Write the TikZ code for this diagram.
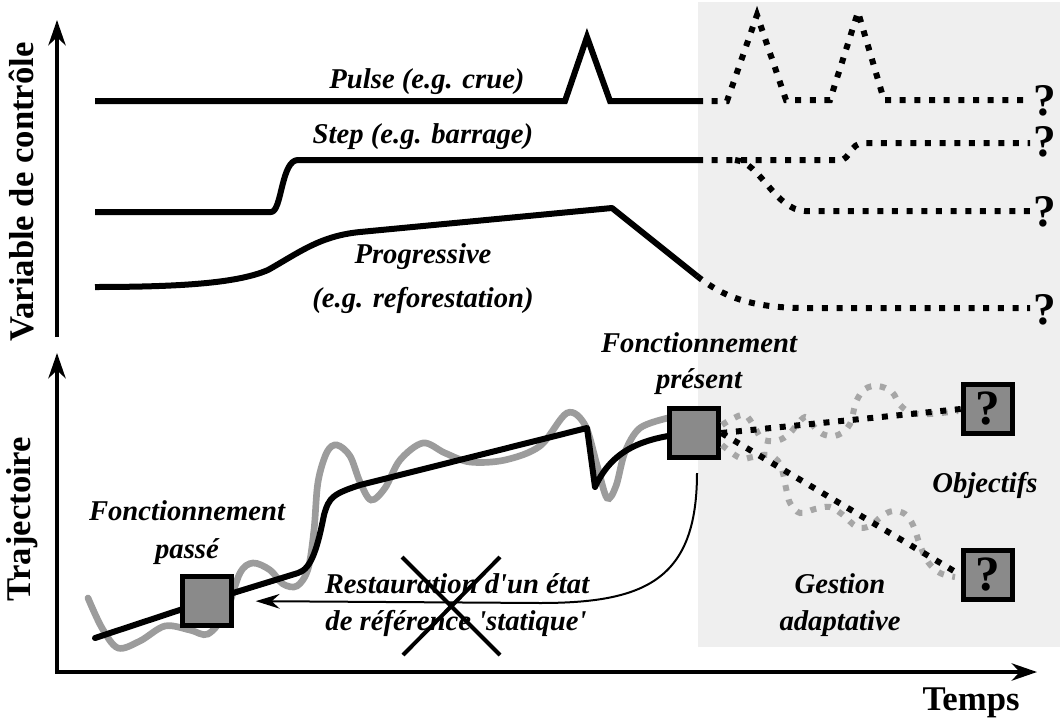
\documentclass[tikz,border=0pt]{standalone}
\usepackage{fontspec}
\setmainfont{Liberation Serif}
\usetikzlibrary{arrows.meta,calc}
\definecolor{zonegray}{HTML}{EFEFEF}
\definecolor{boxgray}{HTML}{8A8A8A}
\definecolor{wigglegray}{HTML}{9C9C9C}
\definecolor{dotgray}{HTML}{A6A6A6}
\pgfdeclarelayer{bg}
\pgfdeclarelayer{mid}
\pgfsetlayers{bg,mid,main}
\begin{document}
\begin{tikzpicture}[x=0.75pt, y=-0.75pt,
  axis/.style={line width=2.5pt},
  bigtip/.tip={Stealth[length=19pt, width=13pt, inset=6pt]},
  smalltip/.tip={Stealth[length=18pt, width=11pt, inset=6pt]},
  curve/.style={line width=4.5pt, line join=miter},
  dotted line/.style={line width=4.5pt, dash pattern=on 4.5pt off 6.5pt},
  graydots/.style={dotted line, draw=dotgray},
  wiggle/.style={line width=5pt, draw=wigglegray, line cap=round},
  traj/.style={line width=4.5pt, line join=round, line cap=round},
  state/.style={draw, line width=4pt, fill=boxgray, minimum size=37pt, inner sep=0pt,
    font=\bfseries\fontsize{37}{37}\selectfont},
  lbl/.style={font=\bfseries\itshape\fontsize{21.5}{24}\selectfont, inner sep=0pt, anchor=base},
  axlbl/.style={font=\bfseries\fontsize{26}{28}\selectfont, inner sep=0pt},
  qmark/.style={font=\bfseries\fontsize{34}{34}\selectfont, inner sep=0pt},
  ret/.style={line width=1.5pt, -smalltip},
  cross/.style={line width=3pt}
]
\useasboundingbox (0,0) rectangle (1060,721);

% shaded zone of adaptive management
\begin{pgfonlayer}{bg}
  \fill[zonegray] (698,2) rectangle (1060,647);
\end{pgfonlayer}

% axes
\coordinate (ctop0) at (57,337);
\coordinate (ctop1) at (57,20);
\coordinate (tbot1) at (57,353);
\coordinate (orig) at (57,672);
\coordinate (tend) at (1037,672);
\draw[axis, -bigtip] (ctop0) -- (ctop1);
\draw[axis, bigtip-bigtip] (tbot1) -- (orig) -- (tend);

\node[axlbl, rotate=90] (lblctrl) at (22,192) {Variable de contrôle};
\node[axlbl, rotate=90] (lbltraj) at (22,519) {Trajectoire};
\node[axlbl, anchor=base] (lbltime) at (971,710) {Temps};

% control variables: pulse
\draw[curve] (95,101) -- (565,101) -- (587,37) -- (610,101) -- (697,101);
\draw[dotted line, line join=miter] (697,101) -- (727,101) -- (757,15) -- (786,100) -- (830,100)
  -- (858,12) -- (884,100) -- (1030,100);
% step
\draw[curve, line join=round] (95,212) -- (271,212) .. controls (282,212) and (281,160) .. (298,160) -- (697,160);
\draw[dotted line] (697,160) -- (840,160) .. controls (850,160) and (850,143) .. (864,143) -- (1030,143);
\draw[dotted line] (735,160) .. controls (760,162) and (775,210) .. (805,211) -- (1030,211);
% progressive
\draw[curve, line join=round] (95,287) .. controls (190,287) and (240,282) .. (268,270)
  .. controls (300,252) and (320,236) .. (360,232) -- (612,208) -- (697,276);
\draw[dotted line] (697,276) .. controls (722,296) and (750,308) .. (805,308) -- (1030,308);

\node[qmark] (q1) at (1045,101) {?};
\node[qmark] (q2) at (1045,142) {?};
\node[qmark] (q3) at (1045,212) {?};
\node[qmark] (q4) at (1045,310) {?};

\node[lbl] (lpulse) at (427,88) {Pulse (e.g. crue)};
\node[lbl] (lstep) at (423,143) {Step (e.g. barrage)};
\node[lbl] (lprog) at (423,263) {Progressive};
\node[lbl] (lprog2) at (423,307) {(e.g. reforestation)};

% states of the system
\node[state] (past) at (207,601) {};
\node[state] (present) at (694,433) {};
\node[state] (obj1) at (988,409) {?};
\node[state] (obj2) at (988,575) {?};

\node[lbl] (lpast1) at (187,520) {Fonctionnement};
\node[lbl] (lpast2) at (187,558) {passé};
\node[lbl] (lpres1) at (699,352) {Fonctionnement};
\node[lbl] (lpres2) at (699,388) {présent};
\node[lbl] (lobj) at (985,492) {Objectifs};
\node[lbl] (lgest1) at (840,593) {Gestion};
\node[lbl] (lgest2) at (840,630) {adaptative};
\node[lbl] (lrest1) at (457,593) {Restauration d\textquotesingle un état};
\node[lbl] (lrest2) at (456,630) {de référence \textquotesingle statique\textquotesingle};

% trajectories
\coordinate (t0) at (95,638);
\coordinate (t1) at (298,573);
\coordinate (t2) at (587,428);
\coordinate (t3) at (595,487);
\begin{pgfonlayer}{mid}
  \draw[wiggle] plot[smooth, tension=0.55] coordinates {
    (88,598) (102,628) (118,648) (140,641) (165,626) (190,630) (208,634) (226,612)
    (240,573) (253,563) (270,570) (283,584) (297,586) (308,569) (314,530) (318,482)
    (327,452) (337,445) (350,456) (360,482) (371,500) (385,488) (400,460) (423,443)
    (445,453) (470,462) (505,460) (540,446) (567,413) (585,425) (597,465) (607,498)
    (616,486) (625,452) (640,428) (668,418)};
  \draw[traj] (t0) -- (past.center) -- (t1) .. controls (312,569) and (318,545) .. (324,515)
    .. controls (329,497) and (333,494) .. (360,485) -- (t2) -- (t3)
    .. controls (610,455) and (635,437) .. (present.center);
\end{pgfonlayer}

% possible futures
\draw[graydots] plot[smooth, tension=0.6] coordinates {
  (722,425) (732,419) (745,415) (755,428) (762,439) (775,441) (788,435) (805,417)
  (815,428) (825,435) (838,435) (850,424) (856,402) (865,389) (878,386) (892,392)
  (900,405) (912,413) (930,414) (958,411)};
\draw[graydots] plot[smooth, tension=0.6] coordinates {
  (722,445) (740,458) (753,457) (768,455) (780,464) (786,488) (790,503) (800,513)
  (815,509) (830,507) (843,515) (857,527) (870,526) (882,516) (893,511) (905,514)
  (913,525) (920,545) (928,562) (940,573) (955,577)};
\draw[dotted line] (present.east) -- (obj1.west);
\draw[dotted line] (present.east) -- (obj2.west);

% rejected return to a static reference state
\coordinate (retstart) at (697,473);
\draw[ret, shorten >=16pt] (retstart) .. controls (697,580) and (645,603) .. (540,603) -- (past.east);
\coordinate (xa) at (402,557);
\coordinate (xb) at (500,655);
\coordinate (xc) at (500,557);
\coordinate (xd) at (403,655);
\draw[cross] (xa) -- (xb) (xc) -- (xd);
\end{tikzpicture}
\end{document}
